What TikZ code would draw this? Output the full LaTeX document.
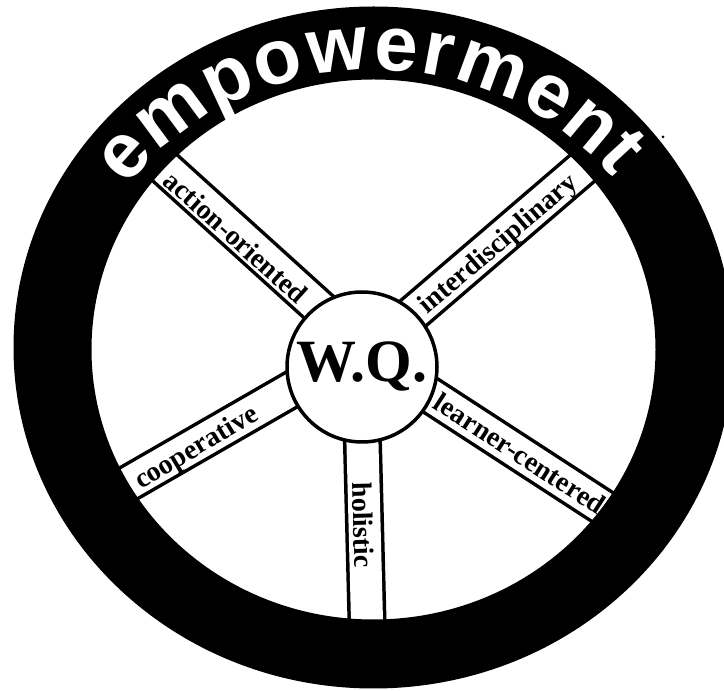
\documentclass[tikz,border=0pt]{standalone}
\usepackage{fontspec}
\setmainfont{Liberation Serif}
\newfontfamily\empsans{Liberation Sans}
\begin{document}
\begin{tikzpicture}[x=1pt,y=1pt,
  lbl/.style={font=\bfseries\fontsize{28}{28}\selectfont, inner sep=0pt},
  spokeband/.style={line width=3.5pt, double=white, double distance=32pt},
  hubstyle/.style={circle, draw, line width=3.5pt, fill=white, minimum size=150pt, inner sep=0pt,
                   font=\bfseries\fontsize{60}{60}\selectfont},
  empletter/.style={text=white, inner sep=0pt, anchor=base,
                    font=\empsans\bfseries\fontsize{78}{78}\selectfont}
]
\useasboundingbox (0,0) rectangle (724,691);
\clip (0,0) rectangle (724,691);
\fill[white] (0,0) rectangle (724,691);

\coordinate (ringO) at (373.5,343.5);
\coordinate (ringI) at (373.5,341.5);
% spoke ends (inner end hidden under hub, outer end hidden under ring)
\coordinate (a1) at (334.2,369.9); \coordinate (a2) at (134.9,550.3);
\coordinate (b1) at (397.2,364);   \coordinate (b2) at (609.4,546);
\coordinate (c1) at (312.5,313.5); \coordinate (c2) at (95.3,188.5);
\coordinate (d1) at (412.3,307.4); \coordinate (d2) at (633.6,163.7);
\coordinate (e1) at (361.7,278);   \coordinate (e2) at (368,31);

\draw[spokeband] (a1) -- (a2);
\draw[spokeband] (b1) -- (b2);
\draw[spokeband] (c1) -- (c2);
\draw[spokeband] (d1) -- (d2);
\draw[spokeband] (e1) -- (e2);

\node[hubstyle] (hub) at (362,324) {W.Q.};

\fill[black, even odd rule] (ringO) ellipse[x radius=360pt, y radius=341pt]
                            (ringI) ellipse[x radius=282pt, y radius=270pt];

% "empowerment" set letter by letter along the ring
\foreach \ch/\t [count=\i] in {e/140.2, m/128.8, p/116.96, o/107.33, w/96.37, e/85.86,
                               r/78.40, m/68.33, e/56.93, n/47.73, t/40.29} {
  \pgfmathsetmacro\rot{atan2(sin(\t)/278, cos(\t)/302)-90}
  \pgfmathsetmacro\px{373.5+302*cos(\t)}
  \pgfmathsetmacro\py{343+278*sin(\t)}
  \node[empletter, rotate=\rot] (emp\i) at (\px,\py) {\ch};
}

\node[lbl, rotate=-42]   (tA) at (236,454)   {action-oriented};
\node[lbl, rotate=40.5]  (tB) at (499,446)   {interdisciplinary};
\node[lbl, rotate=31]    (tC) at (197,242.5) {cooperative};
\node[lbl, rotate=-33]   (tD) at (520,237.5) {learner-centered};
\node[lbl, rotate=-88.5] (tE) at (363,166)   {holistic};

\fill (663,554) circle (1.5pt);
\end{tikzpicture}
\end{document}
